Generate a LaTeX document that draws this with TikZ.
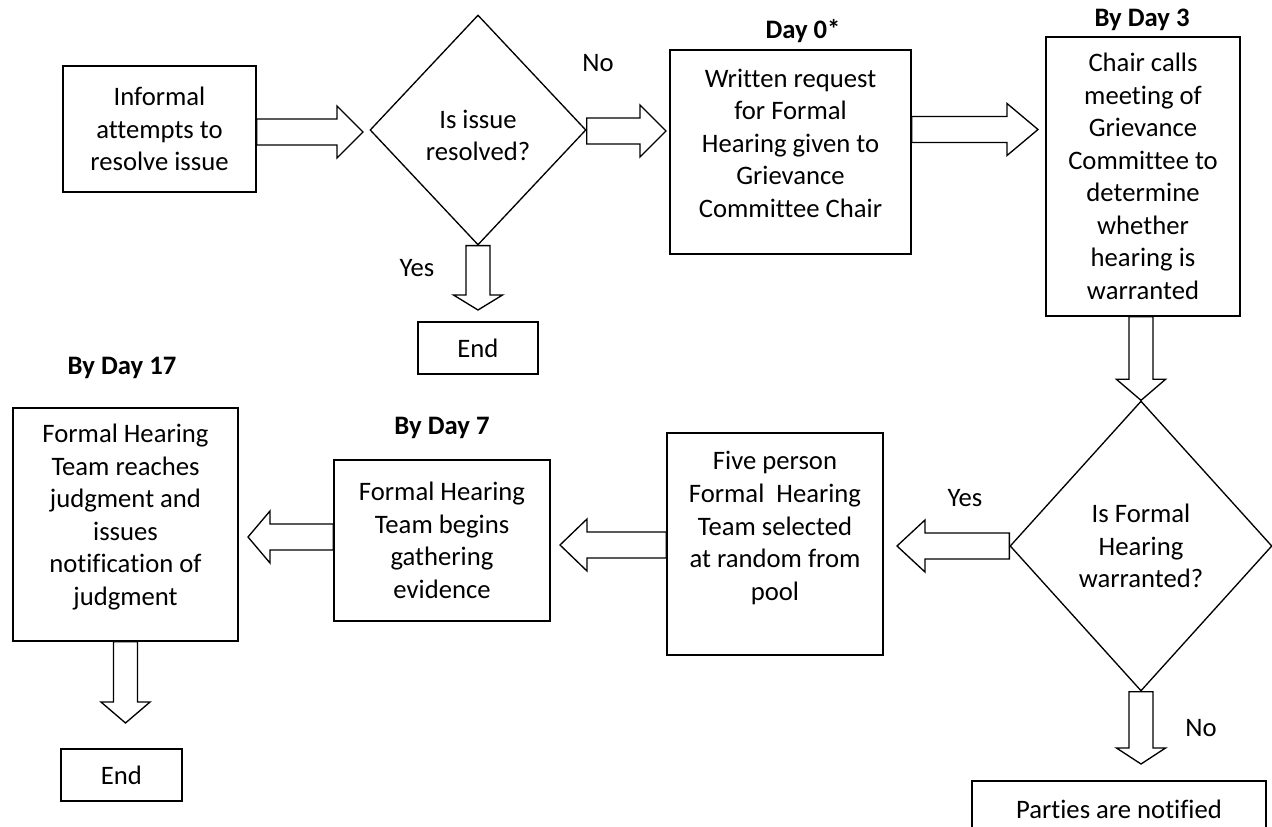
\documentclass[tikz,border=0pt]{standalone}
\usepackage{fontspec}
\setmainfont{Carlito}[Ligatures=NoCommon]
\usetikzlibrary{calc,shapes.geometric}
\newcommand\fsz{\fontsize{20}{24.4}\selectfont}
\tikzset{
  box/.style={draw, line width=1pt, inner sep=0pt, align=center, font=\fsz},
  dia/.style={draw, diamond, line width=1pt, inner sep=0pt, align=center, font=\fsz},
  txt/.style={inner sep=0pt, align=center, font=\fsz},
  daylbl/.style={inner sep=0pt, font=\fsz\bfseries},
  fatline/.style={draw, line width=1pt, line join=miter},
}
% #1 start, #2 tip, #3 shaft half width, #4 head half width, #5 head length
\newcommand\fatarrow[5]{%
  \path (#1) coordinate (faS) (#2) coordinate (faT);
  \path ($(faT)!#5!(faS)$) coordinate (faH);
  \draw[fatline] ($(faS)!#3!90:(faT)$) -- ($(faH)!#3!-90:(faS)$) -- ($(faH)!#4!-90:(faS)$) -- (faT)
     -- ($(faH)!#4!90:(faS)$) -- ($(faH)!#3!90:(faS)$) -- ($(faS)!#3!-90:(faT)$) -- cycle;
}
\begin{document}
\begin{tikzpicture}[x=0.75pt,y=-0.75pt]
\useasboundingbox (0,0) rectangle (1272,827);
\clip (0,0) rectangle (1272,827);

% boxes
\node[box, minimum width=144.75pt, minimum height=94.5pt] (b1) at (159.5,129) {Informal\\attempts to\\resolve issue};
\node[dia, minimum width=162pt, minimum height=172.5pt] (d1) at (478,130) {};
\node[txt] (d1t) at (478,135.5) {Is issue\\resolved?};
\node[box, minimum width=180.75pt, minimum height=153pt] (b2) at (790.5,152) {};
\node[txt] (b2t) at (790.5,143) {Written request\\for Formal\\Hearing given to\\Grievance\\Committee Chair};
\node[box, minimum width=145.5pt, minimum height=209.25pt] (b3) at (1143,176.5) {Chair calls\\meeting of\\Grievance\\Committee to\\determine\\whether\\hearing is\\warranted};
\node[dia, minimum width=196.5pt, minimum height=217.5pt] (d2) at (1141,546) {Is Formal\\Hearing\\warranted?};
\node[box, minimum width=162pt, minimum height=166.5pt] (b4) at (775,544) {};
\node[txt] (b4t) at (775,528) {Five person\\Formal~~Hearing\\Team selected\\at random from\\pool};
\node[box, minimum width=162pt, minimum height=120.75pt] (b5) at (442,540.5) {Formal Hearing\\Team begins\\gathering\\evidence};
\node[box, minimum width=168.75pt, minimum height=174.75pt] (b6) at (125.5,524.5) {};
\node[txt] (b6t) at (125.5,517) {Formal Hearing\\Team reaches\\judgment and\\issues\\notification of\\judgment};
\node[box, minimum width=90pt, minimum height=39pt] (e1) at (478,348) {End};
\node[box, minimum width=90.75pt, minimum height=39pt] (e2) at (121.5,775) {End};
\node[box, minimum width=220.5pt, minimum height=42pt] (p) at (1119,809) {Parties are notified};

% labels
\node[txt] (lno1) at (598,63) {No};
\node[txt] (lyes1) at (417,268) {Yes};
\node[daylbl] (l0) at (803,31) {Day 0*};
\node[daylbl] (l3) at (1142,20) {By Day 3};
\node[daylbl] (l17) at (122,368) {By Day 17};
\node[daylbl] (l7) at (442,428) {By Day 7};
\node[txt] (lyes2) at (965,498) {Yes};
\node[txt] (lno2) at (1201,728) {No};

% tips
\coordinate (t1) at (363,132);
\coordinate (t2) at (666,131);
\coordinate (t3) at (1038,129.5);
\coordinate (t5) at (897,546);
\coordinate (t6) at (560,545);
\coordinate (t7) at (248,537);
\coordinate (t8) at (125.5,723);
\coordinate (tY) at (478,310);
\coordinate (tN) at (1141,764);

% fat arrows
\fatarrow{b1.east |- t1}{t1}{9.75pt}{19.5pt}{19.5pt}
\fatarrow{d1.east |- t2}{t2}{9.75pt}{19.5pt}{19.5pt}
\fatarrow{b2.east |- t3}{t3}{9.75pt}{19.5pt}{23.25pt}
\fatarrow{d2.north |- b3.south}{d2.north}{9pt}{18.4pt}{15.75pt}
\fatarrow{d2.west}{t5}{9.75pt}{19.5pt}{21pt}
\fatarrow{b4.west |- t6}{t6}{9.75pt}{19.5pt}{20.25pt}
\fatarrow{b5.west |- t7}{t7}{9.75pt}{19.5pt}{16.5pt}
\fatarrow{b6.south}{t8}{9pt}{18.4pt}{15.75pt}
\fatarrow{d1.south}{tY}{9pt}{18.4pt}{11.25pt}
\fatarrow{d2.south}{tN}{9pt}{18.4pt}{12pt}
\end{tikzpicture}
\end{document}
